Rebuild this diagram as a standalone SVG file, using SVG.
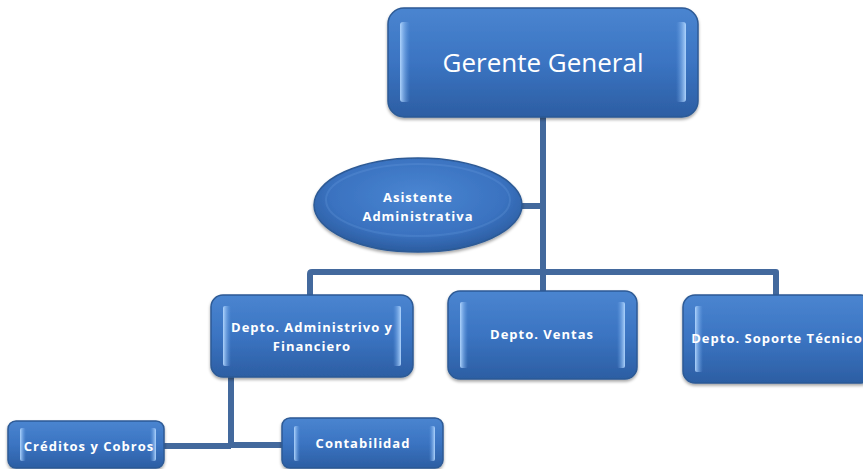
<svg xmlns="http://www.w3.org/2000/svg" width="863" height="469" viewBox="0 0 863 469">
<defs>
<linearGradient id="g" x1="0" y1="0" x2="0" y2="1">
<stop offset="0" stop-color="#4a85d0"/>
<stop offset="0.5" stop-color="#3b74c2"/>
<stop offset="1" stop-color="#2c5ea3"/>
</linearGradient>
<linearGradient id="side" x1="0" y1="0" x2="1" y2="0">
<stop offset="0" stop-color="#b4d8ff" stop-opacity="0.95"/>
<stop offset="1" stop-color="#6aa2e8" stop-opacity="0"/>
</linearGradient>
<linearGradient id="sideR" x1="1" y1="0" x2="0" y2="0">
<stop offset="0" stop-color="#b4d8ff" stop-opacity="0.95"/>
<stop offset="1" stop-color="#6aa2e8" stop-opacity="0"/>
</linearGradient>
<radialGradient id="eg" cx="0.5" cy="0.4" r="0.6">
<stop offset="0" stop-color="#4a86d2"/>
<stop offset="0.7" stop-color="#3a72c0"/>
<stop offset="1" stop-color="#2b5c9f"/>
</radialGradient>
<filter id="sh" x="-10%" y="-10%" width="120%" height="130%">
<feDropShadow dx="0" dy="2" stdDeviation="1.5" flood-color="#000" flood-opacity="0.35"/>
</filter>
</defs>
<style>
.box{fill:url(#g);stroke:#2d5a95;stroke-width:1.5;filter:url(#sh)}
.hl{fill:url(#side)}
.hr{fill:url(#sideR)}
.t{fill:#fff;font-family:"Open Sans","Liberation Sans",sans-serif;font-weight:bold;font-size:13px;letter-spacing:1px;text-anchor:middle}
.big{fill:#fff;font-family:"Open Sans","Liberation Sans",sans-serif;font-size:26px;text-anchor:middle}
.c{fill:none;stroke:#43699d;stroke-width:6;stroke-linejoin:round}
</style>
<g id="connectors">
<path class="c" d="M543 116 V272"/>
<path class="c" d="M520 206 H543"/>
<path class="c" d="M310 295 V274 Q310 272 312 272 H776 V296"/>
<path class="c" d="M543 272 V292"/>
<path class="c" d="M231 376 V445"/>
<path class="c" d="M162 446 H231 M231 445 H284"/>
</g>
<g id="gerente">
<rect class="box" x="388" y="8" width="310" height="109" rx="16"/>
<rect class="hl" x="400" y="22" width="10" height="80" rx="3"/>
<rect class="hr" x="676" y="22" width="10" height="80" rx="3"/>
<text class="big" x="543" y="72">Gerente General</text>
</g>
<g id="asistente">
<ellipse cx="418" cy="205" rx="104" ry="47" fill="url(#eg)" stroke="#2d5a95" stroke-width="1.5" filter="url(#sh)"/>
<ellipse cx="418" cy="200" rx="92" ry="36" fill="none" stroke="#7fb2f0" stroke-opacity="0.18" stroke-width="2"/>
<text class="t" x="418" y="202">Asistente</text>
<text class="t" x="418" y="221">Administrativa</text>
</g>
<g id="admin">
<rect class="box" x="211" y="295" width="202" height="82" rx="12"/>
<rect class="hl" x="223" y="306" width="8" height="60" rx="2"/>
<rect class="hr" x="393" y="306" width="8" height="60" rx="2"/>
<text class="t" x="312" y="332">Depto. Administrivo y</text>
<text class="t" x="312" y="351">Financiero</text>
</g>
<g id="ventas">
<rect class="box" x="448" y="291" width="189" height="88" rx="12"/>
<rect class="hl" x="460" y="302" width="8" height="66" rx="2"/>
<rect class="hr" x="617" y="302" width="8" height="66" rx="2"/>
<text class="t" x="542" y="339">Depto. Ventas</text>
</g>
<g id="soporte">
<rect class="box" x="683" y="295" width="190" height="88" rx="12"/>
<rect class="hl" x="695" y="306" width="8" height="66" rx="2"/>
<text class="t" x="777" y="343">Depto. Soporte Técnico</text>
</g>
<g id="creditos">
<rect class="box" x="8" y="421" width="156" height="47" rx="8"/>
<rect class="hl" x="20" y="428" width="6" height="33" rx="2"/>
<rect class="hr" x="150" y="428" width="6" height="33" rx="2"/>
<text class="t" x="89" y="451">Créditos y Cobros</text>
</g>
<g id="contabilidad">
<rect class="box" x="282" y="418" width="161" height="50" rx="8"/>
<rect class="hl" x="294" y="426" width="6" height="35" rx="2"/>
<rect class="hr" x="429" y="426" width="6" height="35" rx="2"/>
<text class="t" x="363" y="448">Contabilidad</text>
</g>
</svg>
